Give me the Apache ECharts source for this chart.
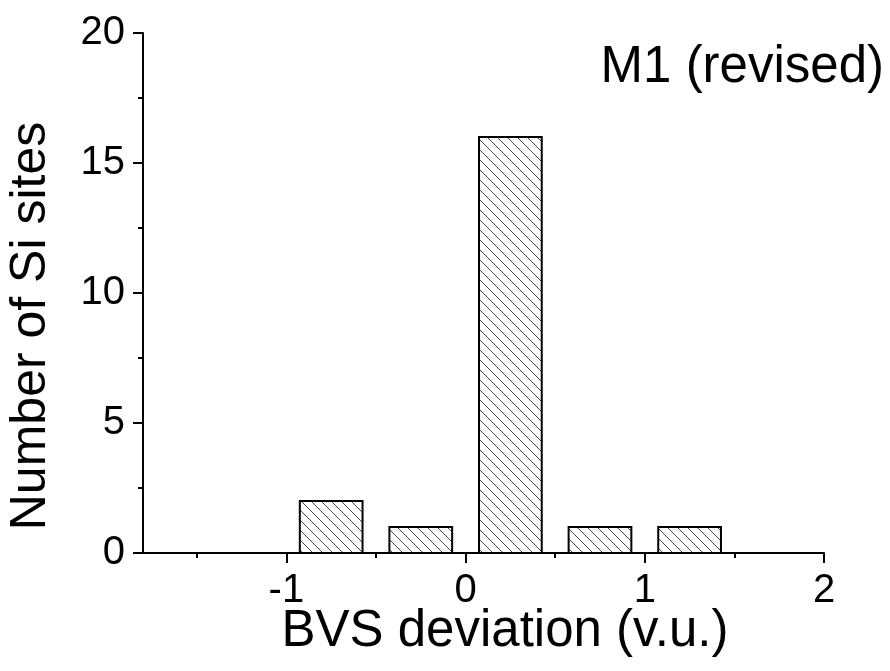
<!DOCTYPE html>
<html>
<head>
<meta charset="utf-8">
<title>BVS deviation histogram</title>
<script src="https://cdn.jsdelivr.net/npm/echarts@6/dist/echarts.min.js"></script>
<style>
  html, body { margin: 0; padding: 0; background: #fff; }
  #chart { width: 890px; height: 671px; }
</style>
</head>
<body>
<div id="chart"></div>
<script>
// Histogram bins: centre of each bin (v.u.) and number of Si sites in it
const binCenters = [-0.75, -0.25, 0.25, 0.75, 1.25];
const siteCounts = [2, 1, 16, 1, 1];

// Axis ticks and labels
const xMajorTicks = [-1, 0, 1, 2];
const xMinorTicks = [-1.5, -0.5, 0.5, 1.5];
const yTicks = [0, 5, 10, 15, 20];

const BIN_WIDTH = 0.35;
const FONT = '"Liberation Sans", Arial, Helvetica, sans-serif';

// Diagonal hatch fill for the bars
function hatchPattern() {
  const size = 10;
  const c = document.createElement('canvas');
  c.width = size; c.height = size;
  const ctx = c.getContext('2d');
  ctx.strokeStyle = '#444';
  ctx.lineWidth = 1;
  ctx.beginPath();
  ctx.moveTo(-1, -1); ctx.lineTo(size + 1, size + 1);
  ctx.moveTo(-1, size - 1); ctx.lineTo(1, size + 1);
  ctx.moveTo(size - 1, -1); ctx.lineTo(size + 1, 1);
  ctx.stroke();
  return { image: c, repeat: 'repeat' };
}
const hatch = hatchPattern();

const chart = echarts.init(document.getElementById('chart'), null, { renderer: 'canvas' });

const axisLabelStyle = { color: '#000', fontFamily: FONT, fontSize: 40 };

const option = {
  animation: false,
  backgroundColor: '#fff',
  grid: { left: 143, right: 66, top: 33, bottom: 118, containLabel: false },
  xAxis: [
    {
      type: 'value',
      min: -1.8,
      max: 2,
      splitLine: { show: false },
      axisLine: { show: true, onZero: false, lineStyle: { color: '#000', width: 2 } },
      axisTick: { show: true, inside: false, length: 10, customValues: xMajorTicks,
                  lineStyle: { color: '#000', width: 2 } },
      axisLabel: Object.assign({ margin: 18, customValues: xMajorTicks,
                                 formatter: v => String(v) }, axisLabelStyle)
    },
    {
      // minor ticks between the labelled ones
      type: 'value',
      min: -1.8,
      max: 2,
      position: 'bottom',
      splitLine: { show: false },
      axisLine: { show: false, onZero: false },
      axisTick: { show: true, inside: false, length: 5, customValues: xMinorTicks,
                  lineStyle: { color: '#000', width: 2 } },
      axisLabel: { show: false }
    }
  ],
  yAxis: {
    type: 'value',
    min: 0,
    max: 20,
    interval: 5,
    splitLine: { show: false },
    axisLine: { show: true, onZero: false, lineStyle: { color: '#000', width: 2 } },
    axisTick: { show: true, inside: false, length: 10, customValues: yTicks,
                lineStyle: { color: '#000', width: 2 } },
    minorTick: { show: true, splitNumber: 2, length: 5, lineStyle: { color: '#000', width: 2 } },
    axisLabel: Object.assign({ margin: 18, customValues: yTicks }, axisLabelStyle)
  },
  series: [{
    type: 'custom',
    xAxisIndex: 0,
    yAxisIndex: 0,
    data: binCenters.map((c, i) => [c, siteCounts[i]]),
    renderItem: function (params, api) {
      const c = api.value(0);
      const n = api.value(1);
      const topLeft = api.coord([c - BIN_WIDTH / 2, n]);
      const bottomRight = api.coord([c + BIN_WIDTH / 2, 0]);
      return {
        type: 'rect',
        shape: {
          x: topLeft[0],
          y: topLeft[1],
          width: bottomRight[0] - topLeft[0],
          height: bottomRight[1] - topLeft[1]
        },
        style: { fill: hatch, stroke: '#000', lineWidth: 2 }
      };
    }
  }],
  graphic: [
    {
      type: 'text',
      x: 505, y: 632,
      style: { text: 'BVS deviation (v.u.)', fill: '#000', font: '51px ' + FONT,
               align: 'center', verticalAlign: 'middle' }
    },
    {
      type: 'text',
      x: 31, y: 326,
      rotation: Math.PI / 2,
      style: { text: 'Number of Si sites', fill: '#000', font: '50px ' + FONT,
               align: 'center', verticalAlign: 'middle' }
    },
    {
      type: 'text',
      x: 884, y: 68,
      style: { text: 'M1 (revised)', fill: '#000', font: '51px ' + FONT,
               align: 'right', verticalAlign: 'middle' }
    }
  ]
};

chart.setOption(option);
</script>
</body>
</html>
